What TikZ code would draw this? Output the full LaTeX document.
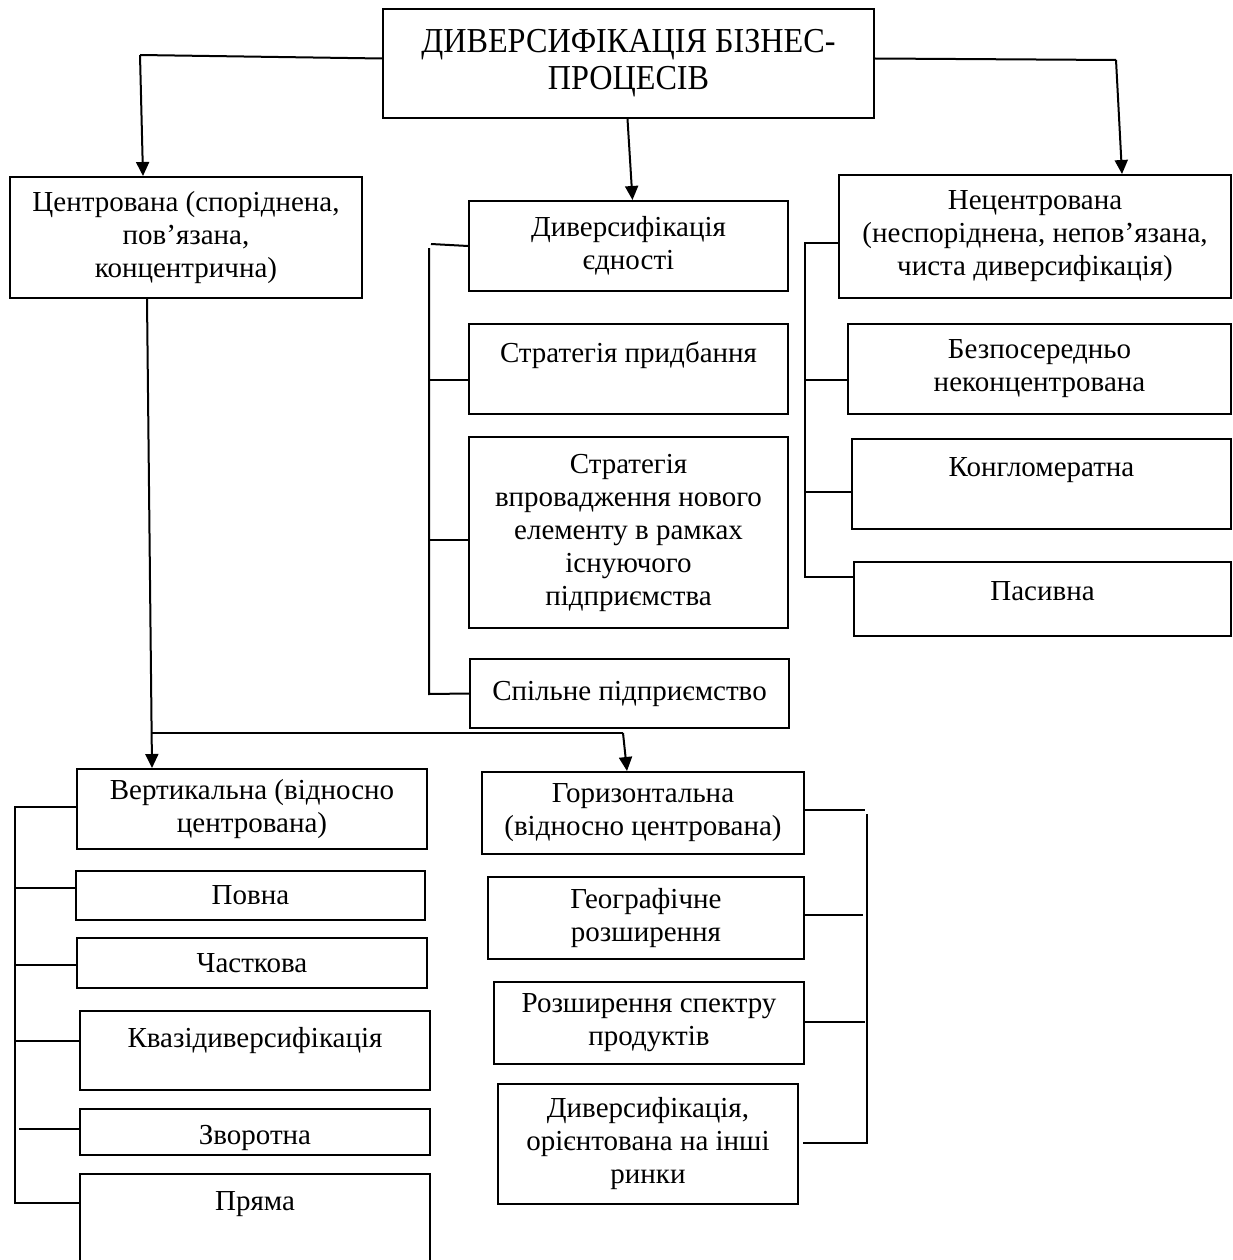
\documentclass[tikz,border=0pt]{standalone}
\usepackage{fontspec}
\setmainfont{Liberation Serif}
\newfontfamily\headfont[FakeStretch=0.92]{Liberation Serif}
\usepackage{tikz}
\usetikzlibrary{arrows.meta, positioning, calc}

\begin{document}
\begin{tikzpicture}[
    x=1pt, y=-1pt,
    box/.style={rectangle, draw, line width=2pt, align=center, anchor=north west,
                font=\fontsize{29}{33}\selectfont, inner sep=4pt},
    title/.style={box, font=\headfont\fontsize{35}{37}\selectfont},
    ln/.style={line width=2pt},
    arr/.style={line width=2pt, -{Triangle[length=14pt, width=13pt]}},
  ]
    \clip (0,0) rectangle (1232,1260);
    \fill[white] (0,0) rectangle (1232,1260);

    % top
    \node[title, minimum width=491pt, minimum height=109pt] (div) at (382,8)
      {ДИВЕРСИФІКАЦІЯ БІЗНЕС-\\ПРОЦЕСІВ};

    % first level
    \node[box, minimum width=352pt, minimum height=121pt] (cen) at (9,176)
      {Центрована (споріднена,\\пов’язана,\\концентрична)};
    \node[box, minimum width=319pt, minimum height=90pt] (unity) at (468,200)
      {Диверсифікація\\єдності};
    \node[box, minimum width=392pt, minimum height=123pt] (uncen) at (838,174)
      {Нецентрована\\(неспоріднена, непов’язана,\\чиста диверсифікація)};

    % middle column
    \node[box, minimum width=319pt, minimum height=90pt] (acq) at (468,323)
      {Стратегія придбання\\~};
    \node[box, minimum width=319pt, minimum height=191pt] (intro) at (468,436)
      {Стратегія\\впровадження нового\\елементу в рамках\\існуючого\\підприємства};
    \node[box, minimum width=319pt, minimum height=69pt] (joint) at (469,658)
      {Спільне підприємство};

    % right column
    \node[box, minimum width=383pt, minimum height=90pt] (direct) at (847,323)
      {Безпосередньо\\неконцентрована};
    \node[box, minimum width=379pt, minimum height=90pt] (conglo) at (851,438)
      {Конгломератна\\~};
    \node[box, minimum width=377pt, minimum height=74pt] (passive) at (853,561)
      {Пасивна\\[-16pt]~};

    % vertical group
    \node[box, minimum width=350pt, minimum height=80pt] (vert) at (76,768)
      {Вертикальна (відносно\\центрована)};
    \node[box, minimum width=349pt, minimum height=49pt] (full) at (75,870)
      {Повна};
    \node[box, minimum width=350pt, minimum height=50pt] (part) at (76,937)
      {Часткова};
    \node[box, minimum width=350pt, minimum height=79pt] (quasi) at (79,1010)
      {Квазідиверсифікація\\[-7pt]~};
    \node[box, minimum width=350pt, minimum height=46pt] (back) at (79,1108)
      {\raisebox{-6pt}[\height][\depth]{Зворотна}};
    \node[box, minimum width=350pt, minimum height=100pt] (fwd) at (79,1173)
      {Пряма\\[13pt]~};

    % horizontal group
    \node[box, minimum width=322pt, minimum height=82pt] (horiz) at (481,771)
      {Горизонтальна\\(відносно центрована)};
    \node[box, minimum width=316pt, minimum height=82pt] (geo) at (487,876)
      {Географічне\\розширення};
    \node[box, minimum width=310pt, minimum height=82pt] (range) at (493,981)
      {Розширення спектру\\продуктів};
    \node[box, minimum width=300pt, minimum height=120pt] (markets) at (497,1083)
      {Диверсифікація,\\орієнтована на інші\\ринки};

    % arrows from the top
    \coordinate (tl) at (140,55);
    \coordinate (tr) at (1116,60);
    \draw[ln] ([yshift=5pt]div.west) -- (tl);
    \draw[arr] (tl) -- ([xshift=134pt]cen.north west);
    \draw[arr] ([xshift=-1pt]div.south) -- ([xshift=4pt]unity.north);
    \draw[ln] ([yshift=5pt]div.east) -- (tr);
    \draw[arr] (tr) -- ([xshift=284pt]uncen.north west);

    % middle bracket
    \coordinate (u0) at (431,244);
    \coordinate (u1) at (429,248);
    \coordinate (u2) at (429,380);
    \coordinate (u3) at (429,540);
    \coordinate (u4) at (429,694);
    \draw[ln] (unity.west) -- (u0);
    \draw[ln] (u1) -- (u4) -- (joint.west);
    \draw[ln] (u2) -- (u2 -| acq.west);
    \draw[ln] (u3) -- (u3 -| intro.west);

    % right bracket
    \coordinate (n0) at (805,243);
    \coordinate (n1) at (805,380);
    \coordinate (n2) at (805,492);
    \coordinate (n3) at (805,577);
    \draw[ln] (n0 -| uncen.west) -- (n0) -- (n3) -- (n3 -| passive.west);
    \draw[ln] (n1) -- (n1 -| direct.west);
    \draw[ln] (n2) -- (n2 -| conglo.west);

    % centred -> vertical, horizontal
    \coordinate (c0) at (152,733);
    \coordinate (c1) at (623,733);
    \draw[arr] ([xshift=138pt]cen.south west) -- ([xshift=76pt]vert.north west);
    \draw[ln] (c0) -- (c1);
    \draw[arr] (c1) -- ([xshift=146pt]horiz.north west);

    % left bracket
    \coordinate (v0) at (15,807);
    \coordinate (v1) at (15,888);
    \coordinate (v2) at (15,965);
    \coordinate (v3) at (15,1041);
    \coordinate (v4) at (19,1129);
    \coordinate (v5) at (15,1203);
    \draw[ln] (v0 -| vert.west) -- (v0) -- (v5) -- (v5 -| fwd.west);
    \draw[ln] (v1) -- (v1 -| full.west);
    \draw[ln] (v2) -- (v2 -| part.west);
    \draw[ln] (v3) -- (v3 -| quasi.west);
    \draw[ln] (v4) -- (v4 -| back.west);

    % horizontal bracket
    \coordinate (h0) at (865,810);
    \coordinate (h1) at (863,915);
    \coordinate (h2) at (865,1022);
    \coordinate (s0) at (867,814);
    \coordinate (s1) at (867,1143);
    \coordinate (m0) at (803,1143);
    \draw[ln] (horiz.east |- h0) -- (h0);
    \draw[ln] (geo.east |- h1) -- (h1);
    \draw[ln] (range.east |- h2) -- (h2);
    \draw[ln] (s0) -- (s1) -- (m0);
  \end{tikzpicture}
\end{document}
